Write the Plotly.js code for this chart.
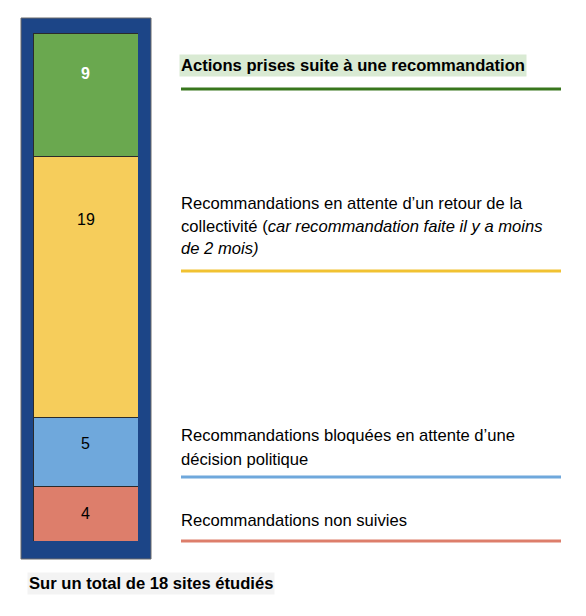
<!DOCTYPE html>
<html>
<head>
<meta charset="utf-8">
<script src="https://cdn.plot.ly/plotly-3.0.1.min.js"></script>
<style>html,body{margin:0;padding:0;background:#fff;}#chart{width:586px;height:616px;}</style>
</head>
<body>
<div id="chart"></div>
<script>
// ---- Data ----
const categories = [
  'Recommandations non suivies',
  'Recommandations bloquées en attente d’une décision politique',
  'Recommandations en attente d’un retour de la collectivité',
  'Actions prises suite à une recommandation'
];
const values = [4, 5, 19, 9];
const legendLines = [
  ['Recommandations non suivies'],
  ['Recommandations bloquées en attente d’une', 'décision politique'],
  ['Recommandations en attente d’un retour de la', 'collectivité (<i>car recommandation faite il y a moins</i>', '<i>de 2 mois)</i>'],
  ['<b>Actions prises suite à une recommandation</b>']
];
const footnote = 'Sur un total de 18 sites étudiés';

// ---- Styles ----
const fillColors = ['#dd7e6b', '#6fa8dc', '#f6cd5b', '#6aa84f'];
const lineColors = ['#dd7e6b', '#6fa8dc', '#f1c232', '#38761d'];
const labelColors = ['#000', '#000', '#000', '#fff'];
const labelBold = [false, false, false, true];
const labelFrac = [0.5, 0.62, 0.76, 0.67]; // vertical placement of labels within segment
const legendLineY = [541, 477, 271, 89];    // px
const legendTextY = [[520], [435, 459], [204, 226, 248], [65]];

const W = 586, H = 616;
const M = {l: 33, r: 448, t: 33, b: 75};
const PW = W - M.l - M.r, PH = H - M.t - M.b;
const px = x => (x - M.l) / PW;
const py = y => (H - M.b - y) / PH;
const FONT = '"Liberation Sans", Arial, sans-serif';
const FS = 16.6;

const traces = values.map((v, i) => ({
  type: 'bar', x: [0], y: [v], name: categories[i],
  marker: {color: fillColors[i], line: {color: '#2b2b2b', width: 1}},
  hoverinfo: 'skip', showlegend: false
}));

const annotations = [];
let cum = 0;
values.forEach((v, i) => {
  annotations.push({
    xref: 'x', yref: 'y', x: 0, y: cum + v * labelFrac[i],
    text: labelBold[i] ? '<b>' + v + '</b>' : String(v),
    showarrow: false, font: {family: FONT, size: 16, color: labelColors[i]},
    xanchor: 'center', yanchor: 'middle'
  });
  cum += v;
});

legendLines.forEach((lines, i) => {
  lines.forEach((t, j) => {
    const a = {
      xref: 'paper', yref: 'paper', x: px(179), y: py(legendTextY[i][j]),
      text: t, showarrow: false, xanchor: 'left', yanchor: 'middle',
      font: {family: FONT, size: FS, color: '#000'}, borderpad: 1
    };
    if (i === 3) { a.bgcolor = '#d9ead3'; }
    annotations.push(a);
  });
});

annotations.push({
  xref: 'paper', yref: 'paper', x: px(27), y: py(583),
  text: '<b>' + footnote + '</b>', showarrow: false,
  xanchor: 'left', yanchor: 'middle', bgcolor: '#f3f3f3', borderpad: 1,
  font: {family: FONT, size: FS, color: '#000'}
});

const shapes = [
  {type: 'rect', xref: 'paper', yref: 'paper', layer: 'below',
   x0: px(21), x1: px(151), y0: py(559), y1: py(18),
   fillcolor: '#1c4587', line: {color: '#6b6b6b', width: 1}}
];
legendLineY.forEach((y, i) => {
  shapes.push({type: 'line', xref: 'paper', yref: 'paper',
    x0: px(181), x1: px(561), y0: py(y), y1: py(y),
    line: {color: lineColors[i], width: 3}});
});

const layout = {
  width: W, height: H, margin: M,
  paper_bgcolor: '#fff', plot_bgcolor: 'rgba(0,0,0,0)',
  barmode: 'stack', bargap: 0,
  xaxis: {range: [-0.5, 0.5], visible: false, fixedrange: true},
  yaxis: {range: [0, values.reduce((a, b) => a + b, 0)], visible: false, fixedrange: true},
  shapes, annotations, showlegend: false
};

Plotly.newPlot('chart', traces, layout, {displayModeBar: false, staticPlot: true});
</script>
</body>
</html>
